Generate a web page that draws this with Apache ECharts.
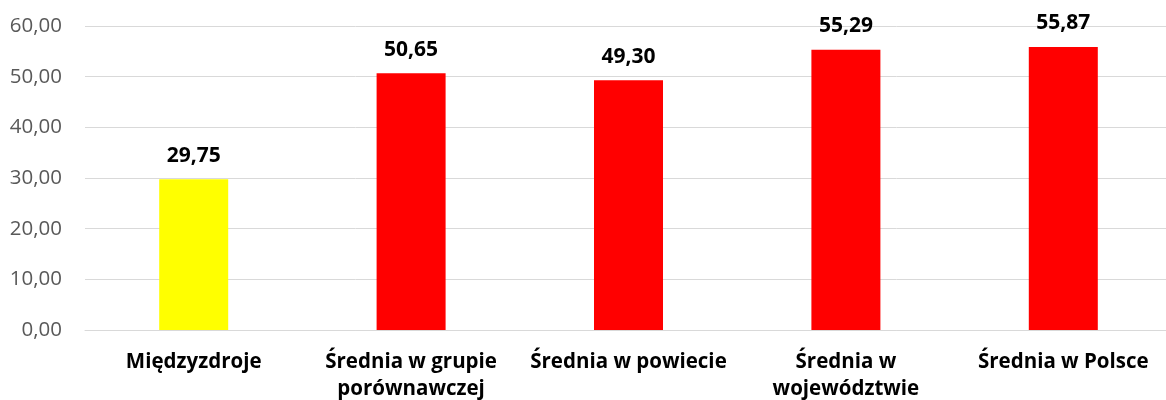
<!DOCTYPE html>
<html>
<head>
<meta charset="utf-8">
<script src="https://cdn.jsdelivr.net/npm/echarts@6/dist/echarts.min.js"></script>
<style>
  html, body { margin: 0; padding: 0; background: #fff; }
  #chart { width: 1166px; height: 400px; }
</style>
</head>
<body>
<div id="chart"></div>
<script>
// Categories shown along the x axis
const categories = [
  'Międzyzdroje',
  'Średnia w grupie\nporównawczej',
  'Średnia w powiecie',
  'Średnia w\nwojewództwie',
  'Średnia w Polsce'
];
// Values for each category
const values = [29.75, 50.65, 49.30, 55.29, 55.87];
// Bar colours: the municipality in yellow, the averages in red
const barColors = ['#FFFF00', '#FF0000', '#FF0000', '#FF0000', '#FF0000'];

const fmt = v => v.toFixed(2).replace('.', ',');

const chart = echarts.init(document.getElementById('chart'), null, { renderer: 'canvas' });
chart.setOption({
  animation: false,
  backgroundColor: '#ffffff',
  grid: {
    left: 85, width: 1087, top: 26, height: 304,
    containLabel: false,
    outerBoundsMode: 'none'
  },
  xAxis: {
    type: 'category',
    data: categories,
    axisLine: { show: true, lineStyle: { color: '#D9D9D9', width: 1 } },
    axisTick: { show: false },
    axisLabel: {
      interval: 0,
      margin: 19,
      color: '#000000',
      fontFamily: 'Open Sans',
      fontWeight: 'bold',
      fontSize: 20.5,
      lineHeight: 27
    }
  },
  yAxis: {
    type: 'value',
    min: 0,
    max: 60,
    interval: 10,
    axisLine: { show: false },
    axisTick: { show: false },
    splitLine: { lineStyle: { color: '#D9D9D9', width: 1 } },
    axisLabel: {
      margin: 23,
      color: '#595959',
      fontFamily: 'Open Sans',
      fontSize: 20.5,
      formatter: v => fmt(v)
    }
  },
  series: [{
    type: 'bar',
    data: values.map((v, i) => ({ value: v, itemStyle: { color: barColors[i] } })),
    barWidth: 69,
    label: {
      show: true,
      position: 'top',
      distance: 13,
      color: '#000000',
      fontFamily: 'Open Sans',
      fontWeight: 'bold',
      fontSize: 21,
      formatter: p => fmt(p.value)
    }
  }]
});
</script>
</body>
</html>
